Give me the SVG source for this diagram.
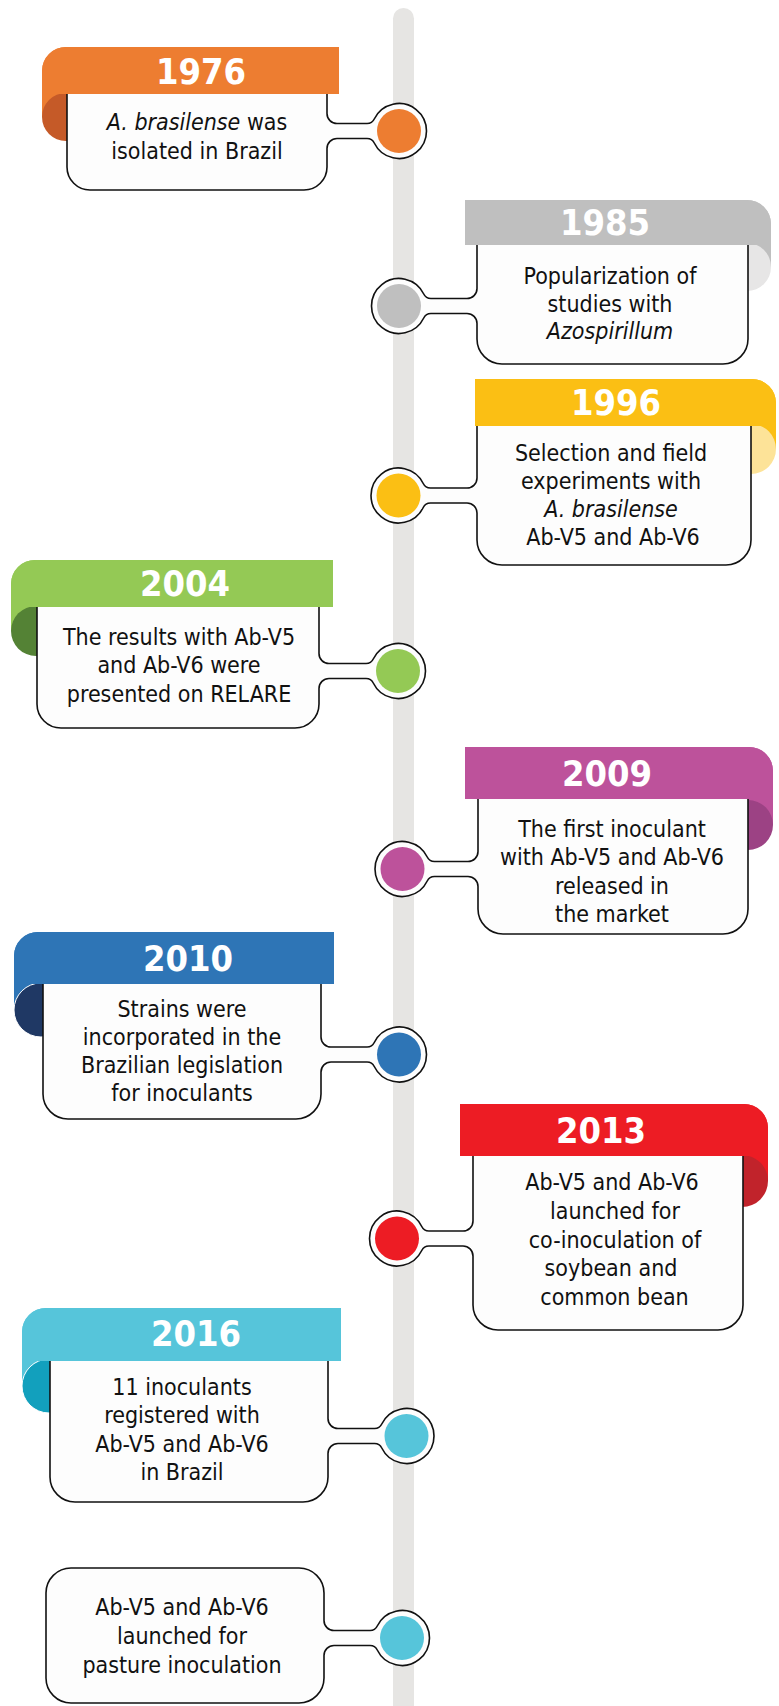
<svg xmlns="http://www.w3.org/2000/svg" width="779" height="1706" viewBox="0 0 779 1706">
<style>
.t{font-family:'DejaVu Sans Condensed','DejaVu Sans',sans-serif;font-stretch:condensed;font-size:23px;fill:#111;text-anchor:middle}
.i{font-style:italic}
.y{font-family:'DejaVu Sans Condensed','DejaVu Sans',sans-serif;font-stretch:condensed;font-weight:bold;font-size:36px;fill:#fff;text-anchor:middle}
.box{fill:#fdfdfd;stroke:#111;stroke-width:1.6}
.ring{fill:#fff}
</style>
<rect id="axis" x="393" y="8" width="21" height="1710" rx="10.5" fill="#e6e5e3"/>
<g id="connectors"></g>

<g id="n1976">
<path d="M 339,47 H 66 A 24 24 0 0 0 42,71 V 117 H 66 V 94 H 339 Z" fill="#ed7d31"/>
<circle cx="66" cy="117" r="24" fill="#c55a28"/>
<path class="box" d="M 67,90 H 327 V 113.5 A 10 10 0 0 0 337,123.5 H 367.06 A 8 8 0 0 0 374.26,118.99 A 27.5 27.5 0 1 1 374.26,143.01 A 8 8 0 0 0 367.06,138.5 H 337 A 10 10 0 0 0 327,148.5 V 167 A 23 23 0 0 1 304,190 H 90 A 23 23 0 0 1 67,167 Z"/>
<path d="M 339,47 H 66 A 24 24 0 0 0 42,71 V 94 H 339 Z" fill="#ed7d31"/>
<circle cx="399" cy="131" r="22" fill="#ed7d31"/>
<text class="y" x="201" y="84">1976</text>
<text class="t" x="197" y="130"><tspan class="i">A. brasilense</tspan> was</text>
<text class="t" x="197" y="159">isolated in Brazil</text>
</g>

<g id="n1985">
<path d="M 465,200 H 747 A 24 24 0 0 1 771,224 V 267 H 747 V 245 H 465 Z" fill="#bfbfbf"/>
<circle cx="747" cy="267" r="24" fill="#e7e6e6"/>
<path class="box" d="M 748,240 H 477 V 288.5 A 10 10 0 0 1 467,298.5 H 430.94 A 8 8 0 0 1 423.74,293.99 A 27.5 27.5 0 1 0 423.74,318.01 A 8 8 0 0 1 430.94,313.5 H 467 A 10 10 0 0 1 477,323.5 V 339 A 25 25 0 0 0 502,364 H 723 A 25 25 0 0 0 748,339 Z"/>
<path d="M 465,200 H 747 A 24 24 0 0 1 771,224 V 245 H 465 Z" fill="#bfbfbf"/>
<circle cx="399" cy="306" r="22" fill="#bfbfbf"/>
<text class="y" x="605" y="235">1985</text>
<text class="t" x="610" y="284">Popularization of</text>
<text class="t" x="610" y="311.5">studies with</text>
<text class="t i" x="610" y="338.5">Azospirillum</text>
</g>

<g id="n1996">
<path d="M 475,379 H 752 A 24 24 0 0 1 776,403 V 449 H 751 V 426 H 475 Z" fill="#fbbf14"/>
<circle cx="751" cy="449" r="25" fill="#fde398"/>
<path class="box" d="M 751,421 H 477 V 478 A 10 10 0 0 1 467,488 H 430.44 A 8 8 0 0 1 423.24,483.49 A 27.5 27.5 0 1 0 423.24,507.51 A 8 8 0 0 1 430.44,503 H 467 A 10 10 0 0 1 477,513 V 540 A 25 25 0 0 0 502,565 H 726 A 25 25 0 0 0 751,540 Z"/>
<path d="M 475,379 H 752 A 24 24 0 0 1 776,403 V 426 H 475 Z" fill="#fbbf14"/>
<circle cx="398.5" cy="495.5" r="22" fill="#fbbf14"/>
<text class="y" x="616" y="415">1996</text>
<text class="t" x="611" y="461">Selection and field</text>
<text class="t" x="611" y="489">experiments with</text>
<text class="t i" x="611" y="517">A. brasilense</text>
<text class="t" x="613" y="545">Ab-V5 and Ab-V6</text>
</g>

<g id="n2004">
<path d="M 333,560 H 35 A 24 24 0 0 0 11,584 V 631 H 36 V 607 H 333 Z" fill="#94c955"/>
<circle cx="36" cy="631" r="25" fill="#548235"/>
<path class="box" d="M 37,602 H 319 V 653.5 A 10 10 0 0 0 329,663.5 H 366.06 A 8 8 0 0 0 373.26,658.99 A 27.5 27.5 0 1 1 373.26,683.01 A 8 8 0 0 0 366.06,678.5 H 329 A 10 10 0 0 0 319,688.5 V 704 A 24 24 0 0 1 295,728 H 61 A 24 24 0 0 1 37,704 Z"/>
<path d="M 333,560 H 35 A 24 24 0 0 0 11,584 V 607 H 333 Z" fill="#94c955"/>
<circle cx="398" cy="671" r="22" fill="#94c955"/>
<text class="y" x="185" y="596">2004</text>
<text class="t" x="179" y="644.5">The results with Ab-V5</text>
<text class="t" x="179" y="673">and Ab-V6 were</text>
<text class="t" x="179" y="701.5">presented on RELARE</text>
</g>

<g id="n2009">
<path d="M 465,747 H 749 A 24 24 0 0 1 773,771 V 825 H 748 V 799 H 465 Z" fill="#bd529b"/>
<circle cx="748" cy="825" r="25" fill="#9c4284"/>
<path class="box" d="M 748,794 H 478 V 851.5 A 10 10 0 0 1 468,861.5 H 434.44 A 8 8 0 0 1 427.24,856.99 A 27.5 27.5 0 1 0 427.24,881.01 A 8 8 0 0 1 434.44,876.5 H 468 A 10 10 0 0 1 478,886.5 V 909 A 25 25 0 0 0 503,934 H 723 A 25 25 0 0 0 748,909 Z"/>
<path d="M 465,747 H 749 A 24 24 0 0 1 773,771 V 799 H 465 Z" fill="#bd529b"/>
<circle cx="402.5" cy="869" r="22" fill="#bd529b"/>
<text class="y" x="607" y="786">2009</text>
<text class="t" x="612" y="837">The first inoculant</text>
<text class="t" x="612" y="865">with Ab-V5 and Ab-V6</text>
<text class="t" x="612" y="894">released in</text>
<text class="t" x="612" y="922">the market</text>
</g>

<g id="n2010">
<path d="M 334,932 H 38 A 24 24 0 0 0 14,956 V 1010 H 41 V 984 H 334 Z" fill="#2e75b6"/>
<circle cx="41" cy="1010" r="27" fill="#1f3864" stroke="#fff" stroke-width="1"/>
<path class="box" d="M 43,979 H 321 V 1037 A 10 10 0 0 0 331,1047 H 367.06 A 8 8 0 0 0 374.26,1042.49 A 27.5 27.5 0 1 1 374.26,1066.51 A 8 8 0 0 0 367.06,1062 H 331 A 10 10 0 0 0 321,1072 V 1094 A 25 25 0 0 1 296,1119 H 68 A 25 25 0 0 1 43,1094 Z"/>
<path d="M 334,932 H 38 A 24 24 0 0 0 14,956 V 984 H 334 Z" fill="#2e75b6"/>
<circle cx="399" cy="1054.5" r="22" fill="#2e75b6"/>
<text class="y" x="188" y="971">2010</text>
<text class="t" x="182" y="1017">Strains were</text>
<text class="t" x="182" y="1044.5">incorporated in the</text>
<text class="t" x="182" y="1073">Brazilian legislation</text>
<text class="t" x="182" y="1101">for inoculants</text>
</g>

<g id="n2013">
<path d="M 460,1104 H 744 A 24 24 0 0 1 768,1128 V 1181 H 742 V 1156 H 460 Z" fill="#ed1c24"/>
<circle cx="742" cy="1181" r="26" fill="#c1232b"/>
<path class="box" d="M 743,1151 H 473 V 1221 A 10 10 0 0 1 463,1231 H 428.94 A 8 8 0 0 1 421.74,1226.49 A 27.5 27.5 0 1 0 421.74,1250.51 A 8 8 0 0 1 428.94,1246 H 463 A 10 10 0 0 1 473,1256 V 1305 A 25 25 0 0 0 498,1330 H 718 A 25 25 0 0 0 743,1305 Z"/>
<path d="M 460,1104 H 744 A 24 24 0 0 1 768,1128 V 1156 H 460 Z" fill="#ed1c24"/>
<circle cx="397" cy="1238.5" r="22" fill="#ed1c24"/>
<text class="y" x="601" y="1143">2013</text>
<text class="t" x="612" y="1190">Ab-V5 and Ab-V6</text>
<text class="t" x="615" y="1219">launched for</text>
<text class="t" x="615" y="1247.5">co-inoculation of</text>
<text class="t" x="611" y="1276">soybean and</text>
<text class="t" x="614.5" y="1304.5">common bean</text>
</g>

<g id="n2016">
<path d="M 341,1308 H 46 A 24 24 0 0 0 22,1332 V 1386 H 49 V 1361 H 341 Z" fill="#56c5da"/>
<circle cx="49" cy="1386" r="27" fill="#12a0bd" stroke="#fff" stroke-width="1"/>
<path class="box" d="M 50,1356 H 328 V 1418.5 A 10 10 0 0 0 338,1428.5 H 374.56 A 8 8 0 0 0 381.76,1423.99 A 27.5 27.5 0 1 1 381.76,1448.01 A 8 8 0 0 0 374.56,1443.5 H 338 A 10 10 0 0 0 328,1453.5 V 1477 A 25 25 0 0 1 303,1502 H 75 A 25 25 0 0 1 50,1477 Z"/>
<path d="M 341,1308 H 46 A 24 24 0 0 0 22,1332 V 1361 H 341 Z" fill="#56c5da"/>
<circle cx="406.5" cy="1436" r="22" fill="#56c5da"/>
<text class="y" x="196" y="1346">2016</text>
<text class="t" x="182" y="1394.5">11 inoculants</text>
<text class="t" x="182" y="1423">registered with</text>
<text class="t" x="182" y="1452">Ab-V5 and Ab-V6</text>
<text class="t" x="182" y="1479.5">in Brazil</text>
</g>

<g id="nPasture">
<path class="box" d="M 71,1568 H 299 A 25 25 0 0 1 324,1593 V 1620.5 A 10 10 0 0 0 334,1630.5 H 370.06 A 8 8 0 0 0 377.26,1625.99 A 27.5 27.5 0 1 1 377.26,1650.01 A 8 8 0 0 0 370.06,1645.5 H 334 A 10 10 0 0 0 324,1655.5 V 1678 A 25 25 0 0 1 299,1703 H 71 A 25 25 0 0 1 46,1678 V 1593 A 25 25 0 0 1 71,1568 Z"/>
<circle cx="402" cy="1638" r="22" fill="#56c5da"/>
<text class="t" x="182" y="1615">Ab-V5 and Ab-V6</text>
<text class="t" x="182" y="1644">launched for</text>
<text class="t" x="182" y="1672.5">pasture inoculation</text>
</g>
</svg>
